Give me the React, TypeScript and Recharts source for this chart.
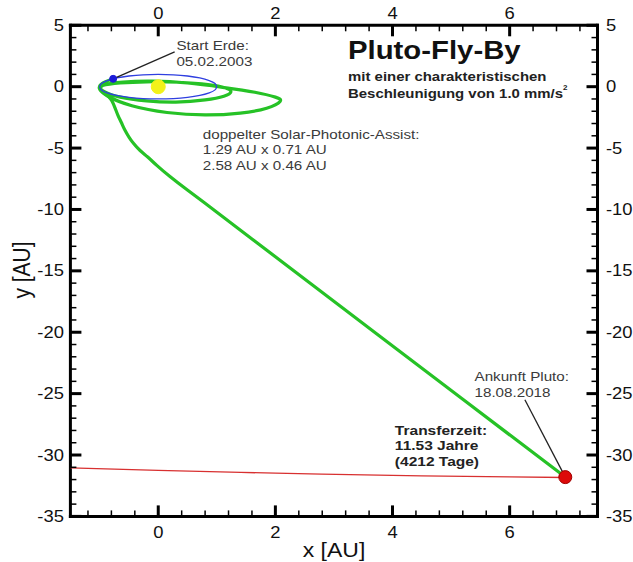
import React from 'react';
import { ScatterChart, Scatter, XAxis, YAxis } from 'recharts';

// ---------- data ----------
const xTicks = [-1.2, -0.8, -0.4, 0, 0.4, 0.8, 1.2, 1.6, 2, 2.4, 2.8, 3.2, 3.6, 4, 4.4, 4.8, 5.2, 5.6, 6, 6.4, 6.8, 7.2];
const xLabelTicks = [0, 2, 4, 6];
const yTicks = [5, 4, 3, 2, 1, 0, -1, -2, -3, -4, -5, -6, -7, -8, -9, -10, -11, -12, -13, -14, -15, -16, -17, -18, -19, -20,
  -21, -22, -23, -24, -25, -26, -27, -28, -29, -30, -31, -32, -33, -34, -35];
const yLabelTicks = [5, 0, -5, -10, -15, -20, -25, -30, -35];

const earthOrbit = [
  { x: 1, y: 0 }, { x: 0.97, y: 0.26 }, { x: 0.87, y: 0.5 }, { x: 0.71, y: 0.71 }, { x: 0.5, y: 0.87 }, { x: 0.26, y: 0.97 },
  { x: 0, y: 1 }, { x: -0.26, y: 0.97 }, { x: -0.5, y: 0.87 }, { x: -0.71, y: 0.71 }, { x: -0.87, y: 0.5 }, { x: -0.97, y: 0.26 },
  { x: -1, y: 0 }, { x: -0.97, y: -0.26 }, { x: -0.87, y: -0.5 }, { x: -0.71, y: -0.71 }, { x: -0.5, y: -0.87 }, { x: -0.26, y: -0.97 },
  { x: 0, y: -1 }, { x: 0.26, y: -0.97 }, { x: 0.5, y: -0.87 }, { x: 0.71, y: -0.71 }, { x: 0.87, y: -0.5 }, { x: 0.97, y: -0.26 },
  { x: 1, y: 0 },
];

// two solar-photonic-assist loops
const assistLoops = [
  { x: -0.77, y: 0.64 }, { x: -0.9, y: 0.4 }, { x: -1.0, y: 0.05 }, { x: -0.92, y: -0.4 }, { x: -0.65, y: -0.85 },
  { x: -0.2, y: -1.15 }, { x: 0.3, y: -1.25 }, { x: 0.8, y: -1.08 }, { x: 1.12, y: -0.78 }, { x: 1.24, y: -0.42 },
  { x: 1.15, y: -0.1 }, { x: 0.85, y: 0.18 }, { x: 0.35, y: 0.36 }, { x: -0.2, y: 0.4 }, { x: -0.65, y: 0.3 },
  { x: -0.95, y: 0.1 }, { x: -1.0, y: -0.2 }, { x: -0.85, y: -0.8 }, { x: -0.45, y: -1.55 }, { x: 0.15, y: -2.1 },
  { x: 0.8, y: -2.3 }, { x: 1.4, y: -2.15 }, { x: 1.85, y: -1.75 }, { x: 2.08, y: -1.2 }, { x: 2.0, y: -0.85 },
  { x: 1.65, y: -0.45 }, { x: 1.1, y: -0.05 }, { x: 0.5, y: 0.3 }, { x: -0.1, y: 0.45 }, { x: -0.6, y: 0.38 },
  { x: -0.92, y: 0.15 }, { x: -1.0, y: -0.2 },
];

// departure leg to Pluto
const departureLeg = [
  { x: -1.0, y: -0.2 }, { x: -0.85, y: -0.8 }, { x: -0.79, y: -1.17 }, { x: -0.74, y: -1.7 }, { x: -0.69, y: -2.31 },
  { x: -0.63, y: -2.92 }, { x: -0.57, y: -3.53 }, { x: -0.5, y: -4.1 }, { x: -0.42, y: -4.63 }, { x: -0.31, y: -5.2 },
  { x: -0.18, y: -5.73 }, { x: -0.02, y: -6.43 }, { x: 0.2, y: -7.32 }, { x: 0.47, y: -8.32 }, { x: 0.8, y: -9.5 },
  { x: 1.6, y: -12.4 }, { x: 2.6, y: -16.03 }, { x: 3.8, y: -20.38 }, { x: 5.2, y: -25.46 }, { x: 6.95, y: -31.8 },
];

const plutoOrbit = [
  { x: -1.5, y: -31.05 }, { x: 0, y: -31.25 }, { x: 2, y: -31.48 }, { x: 4, y: -31.66 }, { x: 6, y: -31.78 }, { x: 6.95, y: -31.83 },
];

const sun = [{ x: 0, y: 0 }];
const earthStart = [{ x: -0.77, y: 0.64 }];
const plutoArrival = [{ x: 6.95, y: -31.8 }];
const earthLeader = [{ x: -0.77, y: 0.64 }, { x: 0.28, y: 2.83 }];
const plutoLeader = [{ x: 6.26, y: -25.5 }, { x: 6.95, y: -31.8 }];

const titleAnchor = [{ x: 3.24, y: 2.98 }];
const subtitleAnchor = [{ x: 3.24, y: 0.86 }];
const startAnchor = [{ x: 0.31, y: 3.4 }];
const assistAnchor = [{ x: 0.76, y: -3.86 }];
const arrivalAnchor = [{ x: 5.4, y: -23.62 }];
const transferAnchor = [{ x: 4.04, y: -27.97 }];

const titleText = 'Pluto-Fly-By';
const subtitleLines = ['mit einer charakteristischen', 'Beschleunigung von 1.0 mm/s'];
const startLines = ['Start Erde:', '05.02.2003'];
const assistLines = ['doppelter Solar-Photonic-Assist:', '1.29 AU x 0.71 AU', '2.58 AU x 0.46 AU'];
const arrivalLines = ['Ankunft Pluto:', '18.08.2018'];
const transferLines = ['Transferzeit:', '11.53 Jahre', '(4212 Tage)'];
const xTitle = 'x [AU]';
const yTitle = 'y [AU]';

// ---------- helpers ----------
const FONT = "'Liberation Sans', Arial, Helvetica, sans-serif";
const STRETCH = 1.15;

function SText(props: any) {
  const { x, y, size, weight = 'normal', fill = '#111', anchor = 'start', rotate = false, children } = props;
  const t = rotate
    ? `translate(${x},${y}) rotate(-90) scale(1,${STRETCH})`
    : `translate(${x},${y}) scale(${STRETCH},1)`;
  return (
    <text transform={t} x={0} y={0} fontSize={size} fontWeight={weight} fill={fill} textAnchor={anchor}
      dominantBaseline="central" fontFamily={FONT}>
      {children}
    </text>
  );
}

const isIn = (v: number, arr: number[]) => arr.some((a) => Math.abs(a - v) < 1e-9);
const isMajorX = (v: number) => Math.abs(v / 2 - Math.round(v / 2)) < 1e-9;
const isMajorY = (v: number) => Math.abs(v / 5 - Math.round(v / 5)) < 1e-9;

const MAJ = 11;
const MIN = 6;

const BottomTick = (p: any) => {
  const v = p.payload.value;
  const major = isMajorX(v);
  return (
    <g>
      <line x1={p.x} x2={p.x} y1={p.y} y2={p.y - (major ? MAJ : MIN)} stroke="#000" strokeWidth={major ? 3 : 1.5} />
      {isIn(v, xLabelTicks) && <SText x={p.x} y={p.y + 16} size={16} anchor="middle">{String(v)}</SText>}
    </g>
  );
};
const TopTick = (p: any) => {
  const v = p.payload.value;
  const major = isMajorX(v);
  return (
    <g>
      <line x1={p.x} x2={p.x} y1={p.y} y2={p.y + (major ? MAJ : MIN)} stroke="#000" strokeWidth={major ? 3 : 1.5} />
      {isIn(v, xLabelTicks) && <SText x={p.x} y={p.y - 12} size={16} anchor="middle">{String(v)}</SText>}
    </g>
  );
};
const LeftTick = (p: any) => {
  const v = p.payload.value;
  const major = isMajorY(v);
  return (
    <g>
      <line x1={p.x} x2={p.x + (major ? MAJ : MIN)} y1={p.y} y2={p.y} stroke="#000" strokeWidth={major ? 3 : 1.5} />
      {isIn(v, yLabelTicks) && <SText x={p.x - 6.5} y={p.y} size={16} anchor="end">{String(v)}</SText>}
    </g>
  );
};
const RightTick = (p: any) => {
  const v = p.payload.value;
  const major = isMajorY(v);
  return (
    <g>
      <line x1={p.x} x2={p.x - (major ? MAJ : MIN)} y1={p.y} y2={p.y} stroke="#000" strokeWidth={major ? 3 : 1.5} />
      {isIn(v, yLabelTicks) && <SText x={p.x + 8.5} y={p.y} size={16} anchor="start">{String(v)}</SText>}
    </g>
  );
};

const NoShape = () => <g />;

const dotShape = (r: number, fill: string, stroke: string) => (p: any) =>
  <circle cx={p.cx} cy={p.cy} r={r} fill={fill} stroke={stroke} strokeWidth={1} />;

const linesShape = (lines: string[], size: number, weight: string, fill: string, lh: number) => (p: any) => (
  <g>
    {lines.map((l, i) => (
      <SText key={i} x={p.cx} y={p.cy + i * lh} size={size} weight={weight} fill={fill}>{l}</SText>
    ))}
  </g>
);

const TitleShape = (p: any) => (
  <SText x={p.cx} y={p.cy} size={25.5} weight="bold" fill="#111">{titleText}</SText>
);

const SubtitleShape = (p: any) => (
  <g>
    <SText x={p.cx} y={p.cy} size={13} weight="bold" fill="#222">{subtitleLines[0]}</SText>
    <SText x={p.cx} y={p.cy + 17} size={13} weight="bold" fill="#222">
      {subtitleLines[1]}
      <tspan fontSize={7} dy={-6}>2</tspan>
    </SText>
  </g>
);

const axisLineStyle = { stroke: '#000', strokeWidth: 3, strokeLinecap: 'square' as const };

const W = 633;
const H = 562;

export default function App() {
  const common = { xAxisId: 'b', yAxisId: 'l', isAnimationActive: false, legendType: 'none' as const };
  return (
    <div style={{ width: W, height: H, position: 'relative', overflow: 'hidden' }}>
      <style>{'html,body{margin:0;padding:0;overflow:hidden;}'}</style>
      <ScatterChart width={W} height={H} margin={{ top: 24.3, right: 34.5, bottom: 44.6, left: 69.4 }}>
        <XAxis xAxisId="b" orientation="bottom" type="number" dataKey="x" domain={[-1.5, 7.5]} ticks={xTicks}
          interval={0} allowDataOverflow height={1} tickSize={0} tickMargin={0} tickLine={false}
          axisLine={axisLineStyle} tick={<BottomTick />} />
        <XAxis xAxisId="t" orientation="top" type="number" dataKey="x" domain={[-1.5, 7.5]} ticks={xTicks}
          interval={0} allowDataOverflow height={1} tickSize={0} tickMargin={0} tickLine={false}
          axisLine={axisLineStyle} tick={<TopTick />} />
        <YAxis yAxisId="l" orientation="left" type="number" dataKey="y" domain={[-35, 5]} ticks={yTicks}
          interval={0} allowDataOverflow width={1} tickSize={0} tickMargin={0} tickLine={false}
          axisLine={axisLineStyle} tick={<LeftTick />} />
        <YAxis yAxisId="r" orientation="right" type="number" dataKey="y" domain={[-35, 5]} ticks={yTicks}
          interval={0} allowDataOverflow width={1} tickSize={0} tickMargin={0} tickLine={false}
          axisLine={axisLineStyle} tick={<RightTick />} />

        <Scatter {...common} name="pluto-orbit" data={plutoOrbit} line={{ stroke: '#d83030', strokeWidth: 1.3 }}
          lineJointType="natural" shape={NoShape} />
        <Scatter {...common} name="assist-loops" data={assistLoops} line={{ stroke: '#26c226', strokeWidth: 3.2 }}
          lineJointType="natural" shape={NoShape} />
        <Scatter {...common} name="departure" data={departureLeg} line={{ stroke: '#26c226', strokeWidth: 3.2 }}
          lineJointType="natural" shape={NoShape} />
        <Scatter {...common} name="earth-orbit" data={earthOrbit} line={{ stroke: '#2f3fe0', strokeWidth: 1.3 }}
          lineJointType="natural" shape={NoShape} />
        <Scatter {...common} name="sun" data={sun} shape={dotShape(7, '#f2f21a', '#f2f21a')} />
        <Scatter {...common} name="earth-leader" data={earthLeader} line={{ stroke: '#222', strokeWidth: 1.3 }} shape={NoShape} />
        <Scatter {...common} name="earth-start" data={earthStart} shape={dotShape(3.5, '#1c1cd8', '#1c1cd8')} />
        <Scatter {...common} name="pluto-leader" data={plutoLeader} line={{ stroke: '#222', strokeWidth: 1.3 }} shape={NoShape} />
        <Scatter {...common} name="pluto" data={plutoArrival} shape={dotShape(6.5, '#dd0a0a', '#a00000')} />

        <Scatter {...common} name="title" data={titleAnchor} shape={TitleShape} />
        <Scatter {...common} name="subtitle" data={subtitleAnchor} shape={SubtitleShape} />
        <Scatter {...common} name="start" data={startAnchor} shape={linesShape(startLines, 13.2, 'normal', '#3a3a3a', 16)} />
        <Scatter {...common} name="assist" data={assistAnchor} shape={linesShape(assistLines, 13.2, 'normal', '#3a3a3a', 15.5)} />
        <Scatter {...common} name="arrival" data={arrivalAnchor} shape={linesShape(arrivalLines, 13.2, 'normal', '#3a3a3a', 15.5)} />
        <Scatter {...common} name="transfer-time" data={transferAnchor} shape={linesShape(transferLines, 13.5, 'bold', '#222', 15.5)} />
      </ScatterChart>
      <svg width={W} height={H} style={{ position: 'absolute', left: 0, top: 0, pointerEvents: 'none' }}>
        <SText x={334} y={550} size={20} anchor="middle">{xTitle}</SText>
        <SText x={22} y={270} size={21} anchor="middle" rotate>{yTitle}</SText>
      </svg>
    </div>
  );
}
